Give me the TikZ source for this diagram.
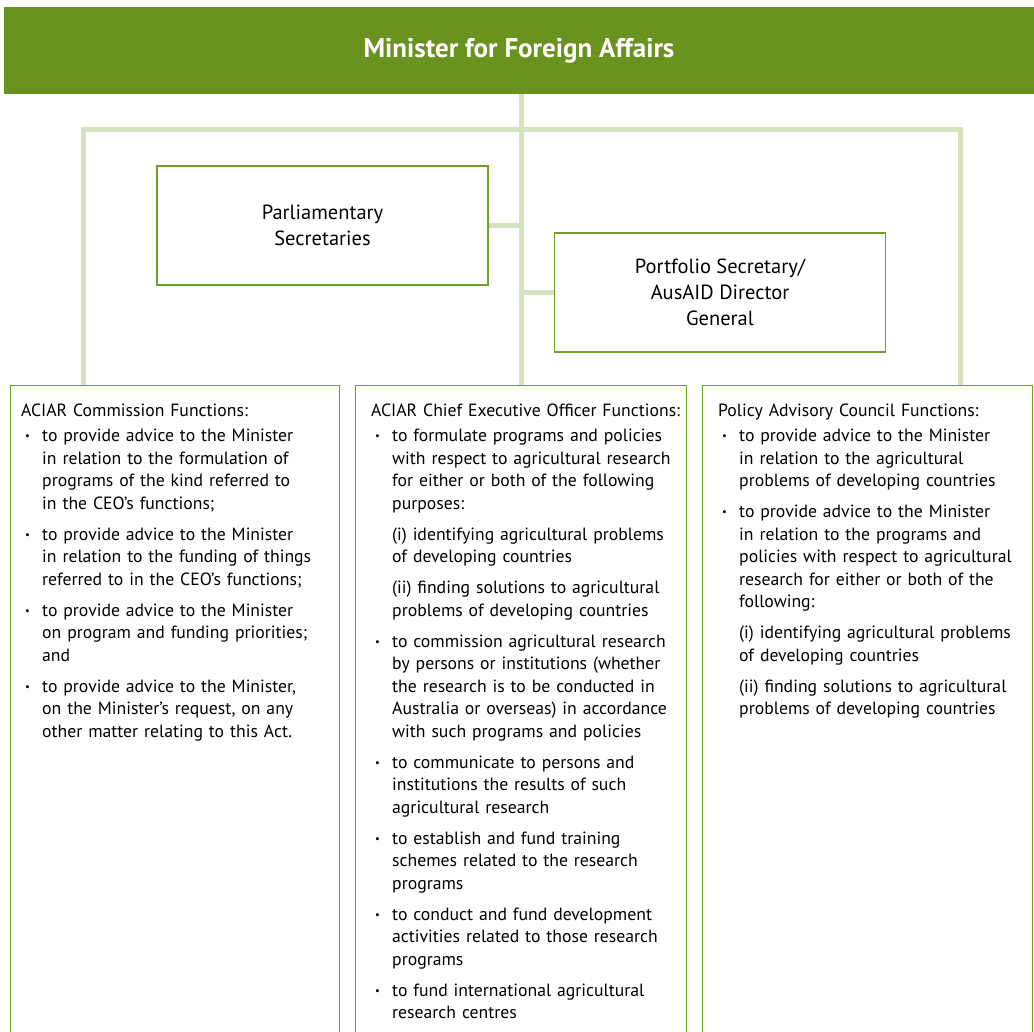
\documentclass[tikz,border=0pt]{standalone}
\usepackage{fontspec}
\setmainfont{PT Sans}
\usepackage{enumitem}
\usetikzlibrary{positioning}
\definecolor{bargreen}{RGB}{106,146,30}
\definecolor{linkgreen}{RGB}{214,226,193}
\definecolor{boxgreen}{RGB}{112,160,40}
\newcommand{\smalldot}{\raisebox{0.25ex}{\scalebox{0.6}{\textbullet}}}
\setlist[itemize]{label=\smalldot,leftmargin=21pt,labelwidth=7pt,labelsep=10pt,align=left,
  topsep=2.5pt,partopsep=0pt,itemsep=0pt,parsep=8.5pt}
\tikzset{%
topbar/.style={fill=bargreen,text=white,inner sep=0,minimum width=1030,minimum height=87,
  font=\fontsize{27}{30}\selectfont\bfseries},
office/.style={draw=boxgreen,line width=1.3,inner sep=0,minimum width=331,minimum height=119,
  align=center,font=\fontsize{20.5}{26}\selectfont},
column/.style={draw=boxgreen,line width=1.3,inner sep=0,minimum width=#1,minimum height=720,anchor=north west},
coltext/.style={text width=312,inner sep=0,align=left,font=\fontsize{17.7}{22.5}\selectfont},
link/.style={draw=linkgreen,line width=5}
}

\begin{document}
\begin{tikzpicture}[x=1pt,y=-1pt]
  \clip (0,0) rectangle (1034,1032);

  \node[topbar]  (minister) at (519,50.5) {Minister for Foreign Affairs};
  \node[office]  (parl)     at (322.5,225.5) {Parliamentary\\Secretaries};
  \node[office]  (port)     at (720,292.5) {Portfolio Secretary/\\AusAID Director\\General};

  \node[column=329] (colA) at (10,385) {};
  \node[column=331] (colB) at (355,385) {};
  \node[column=330] (colC) at (702,385) {};

  \coordinate (hub)      at (521,130);
  \coordinate (leftbar)  at (83,130);
  \coordinate (rightbar) at (960,130);

  % links
  \path[link] (minister.south -| hub) -- (colB.north -| hub);
  \path[link] (leftbar |- colA.north) -- (leftbar) -- (rightbar) -- (rightbar |- colC.north);
  \path[link] (parl.east) -- (parl.east -| hub);
  \path[link] (port.west) -- (port.west -| hub);

  \node[coltext] (textA) [below right=19pt and 11pt of colA.north west,anchor=north west] {%
    ACIAR Commission Functions:
    \begin{itemize}
    \item to provide advice to the Minister\newline in relation to the formulation of\newline
      programs of the kind referred to\newline in the CEO’s functions;
    \item to provide advice to the Minister\newline in relation to the funding of things\newline
      referred to in the CEO’s functions;
    \item to provide advice to the Minister\newline on program and funding priorities;\newline and
    \item to provide advice to the Minister,\newline on the Minister’s request, on any\newline
      other matter relating to this Act.
    \end{itemize}};

  \node[coltext] (textB) [below right=19pt and 16pt of colB.north west,anchor=north west] {%
    ACIAR Chief Executive Officer Functions:
    \begin{itemize}
    \item to formulate programs and policies\newline with respect to agricultural research\newline
      for either or both of the following\newline purposes:

      (i) identifying agricultural problems\newline of developing countries

      (ii) finding solutions to agricultural\newline problems of developing countries
    \item to commission agricultural research\newline by persons or institutions (whether\newline
      the research is to be conducted in\newline Australia or overseas) in accordance\newline
      with such programs and policies
    \item to communicate to persons and\newline institutions the results of such\newline
      agricultural research
    \item to establish and fund training\newline schemes related to the research\newline programs
    \item to conduct and fund development\newline activities related to those research\newline programs
    \item to fund international agricultural\newline research centres
    \end{itemize}};

  \node[coltext] (textC) [below right=19pt and 16pt of colC.north west,anchor=north west] {%
    Policy Advisory Council Functions:
    \begin{itemize}
    \item to provide advice to the Minister\newline in relation to the agricultural\newline
      problems of developing countries
    \item to provide advice to the Minister\newline in relation to the programs and\newline
      policies with respect to agricultural\newline research for either or both of the\newline
      following:

      (i) identifying agricultural problems\newline of developing countries

      (ii) finding solutions to agricultural\newline problems of developing countries
    \end{itemize}};

\end{tikzpicture}
\end{document}
